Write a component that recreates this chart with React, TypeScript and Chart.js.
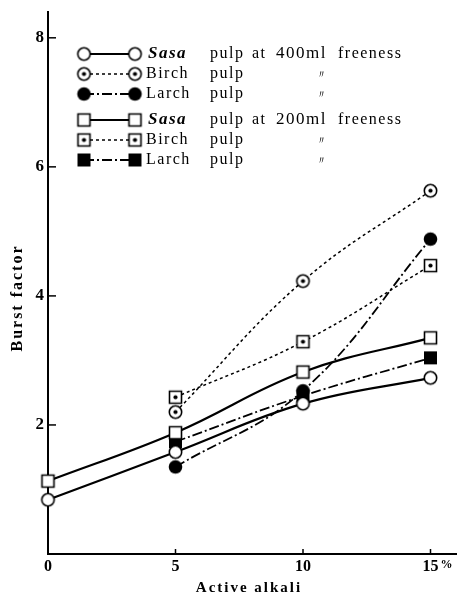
import React, { useEffect, useRef } from 'react';
import { Chart, registerables } from 'chart.js';

Chart.register(...registerables);

// ---- data ----
const alkali = [0, 5, 10, 15];
const sasa400 = [0.84, 1.58, 2.33, 2.73];
const birch400 = [null, 2.2, 4.23, 5.63];
const larch400 = [null, 1.35, 2.53, 4.88];
const sasa200 = [1.13, 1.88, 2.82, 3.35];
const birch200 = [null, 2.43, 3.29, 4.47];
const larch200 = [null, 1.74, 2.45, 3.04];
const xTickValues = [0, 5, 10, 15];
const yTickValues = [2, 4, 6, 8];
const xTitle = 'Active alkali';
const yTitle = 'Burst factor';
const legendNames = ['Sasa', 'Birch', 'Larch', 'Sasa', 'Birch', 'Larch'];
const legendItalic = [true, false, false, true, false, false];
const legendTails = [
  ['at', '400ml', 'freeness'],
  ['〃'],
  ['〃'],
  ['at', '200ml', 'freeness'],
  ['〃'],
  ['〃'],
];

const SERIF = '"Liberation Serif", "DejaVu Serif", serif';

type MarkerKind = 'circle' | 'circleDot' | 'disc' | 'square' | 'squareDot' | 'block';

function makeMarker(kind: MarkerKind): HTMLCanvasElement {
  const s = 17;
  const c = document.createElement('canvas');
  c.width = s;
  c.height = s;
  const g = c.getContext('2d')!;
  const m = s / 2;
  g.lineWidth = 1.6;
  g.strokeStyle = '#000';
  g.fillStyle = '#fff';
  if (kind === 'circle' || kind === 'circleDot') {
    g.beginPath();
    g.arc(m, m, 6.2, 0, Math.PI * 2);
    g.fill();
    g.stroke();
    if (kind === 'circleDot') {
      g.fillStyle = '#000';
      g.beginPath();
      g.arc(m, m, 2.1, 0, Math.PI * 2);
      g.fill();
    }
  } else if (kind === 'disc') {
    g.fillStyle = '#000';
    g.beginPath();
    g.arc(m, m, 6.8, 0, Math.PI * 2);
    g.fill();
  } else if (kind === 'square' || kind === 'squareDot') {
    g.beginPath();
    g.rect(m - 6, m - 6, 12, 12);
    g.fill();
    g.stroke();
    if (kind === 'squareDot') {
      g.fillStyle = '#000';
      g.beginPath();
      g.arc(m, m, 2.1, 0, Math.PI * 2);
      g.fill();
    }
  } else {
    g.fillStyle = '#000';
    g.fillRect(m - 6.5, m - 6.5, 13, 13);
  }
  return c;
}

export default function App() {
  const ref = useRef<HTMLCanvasElement | null>(null);

  useEffect(() => {
    if (!ref.current) return;
    const markers = {
      circle: makeMarker('circle'),
      circleDot: makeMarker('circleDot'),
      disc: makeMarker('disc'),
      square: makeMarker('square'),
      squareDot: makeMarker('squareDot'),
      block: makeMarker('block'),
    };
    const seriesDefs = [
      { values: sasa400, marker: markers.circle, dash: [] as number[], width: 2.2 },
      { values: birch400, marker: markers.circleDot, dash: [3, 3], width: 1.5 },
      { values: larch400, marker: markers.disc, dash: [10, 3, 2, 3], width: 1.8 },
      { values: sasa200, marker: markers.square, dash: [] as number[], width: 2.2 },
      { values: birch200, marker: markers.squareDot, dash: [3, 3], width: 1.5 },
      { values: larch200, marker: markers.block, dash: [10, 3, 2, 3], width: 1.8 },
    ];

    const datasets = seriesDefs.map((d, i) => ({
      label: 'series' + i,
      data: alkali
        .map((x, j) => ({ x, y: d.values[j] }))
        .filter((p) => p.y !== null),
      borderColor: '#000',
      borderWidth: d.width,
      borderDash: d.dash,
      tension: 0.4,
      fill: false,
      pointStyle: d.marker,
      pointRadius: 6,
      clip: false as any,
    }));

    const overlay = {
      id: 'overlay',
      afterDraw(chart: any) {
        const ctx: CanvasRenderingContext2D = chart.ctx;
        const xs = chart.scales.x;
        const ys = chart.scales.y;
        const area = chart.chartArea;
        ctx.save();
        ctx.strokeStyle = '#000';
        ctx.fillStyle = '#000';
        ctx.lineWidth = 1.5;
        ctx.setLineDash([]);
        // inward ticks
        yTickValues.forEach((v) => {
          const y = ys.getPixelForValue(v);
          ctx.beginPath();
          ctx.moveTo(area.left, y);
          ctx.lineTo(area.left + 8, y);
          ctx.stroke();
        });
        xTickValues
          .filter((v) => v > 0)
          .forEach((v) => {
            const x = xs.getPixelForValue(v);
            ctx.beginPath();
            ctx.moveTo(x, area.bottom);
            ctx.lineTo(x, area.bottom - 5);
            ctx.stroke();
          });
        // percent sign after 15
        ctx.font = `bold 12px ${SERIF}`;
        ctx.textAlign = 'left';
        ctx.textBaseline = 'middle';
        ctx.fillText('%', xs.getPixelForValue(15) + 10, area.bottom + 11);

        // axis titles
        (ctx as any).letterSpacing = '2px';
        ctx.font = `bold 15px ${SERIF}`;
        ctx.textAlign = 'center';
        ctx.textBaseline = 'middle';
        ctx.fillText(xTitle, 249, 588);
        ctx.save();
        ctx.translate(18, 298);
        ctx.rotate(-Math.PI / 2);
        ctx.font = `bold 16px ${SERIF}`;
        ctx.fillText(yTitle, 0, 0);
        ctx.restore();

        // legend
        const rowY = [54, 74, 94, 120, 140, 160];
        const x0 = 84;
        const x1 = 135;
        const tailX = [252, 276, 338];
        (ctx as any).letterSpacing = '1.5px';
        seriesDefs.forEach((d, i) => {
          const y = rowY[i];
          ctx.save();
          ctx.lineWidth = d.width;
          ctx.setLineDash(d.dash);
          ctx.beginPath();
          ctx.moveTo(x0, y);
          ctx.lineTo(x1, y);
          ctx.stroke();
          ctx.restore();
          ctx.drawImage(d.marker, x0 - d.marker.width / 2, y - d.marker.height / 2);
          ctx.drawImage(d.marker, x1 - d.marker.width / 2, y - d.marker.height / 2);
          ctx.textAlign = 'left';
          ctx.textBaseline = 'middle';
          ctx.font = legendItalic[i] ? `italic bold 17px ${SERIF}` : `16px ${SERIF}`;
          ctx.fillText(legendNames[i], legendItalic[i] ? 148 : 146, y);
          ctx.font = `16px ${SERIF}`;
          ctx.fillText('pulp', 210, y);
          const tail = legendTails[i];
          if (tail.length === 1) {
            ctx.font = `11px ${SERIF}`;
            ctx.fillText(tail[0], 316, y + 1);
          } else {
            tail.forEach((w, k) => {
              ctx.font = k === 1 ? `17px ${SERIF}` : `16px ${SERIF}`;
              ctx.fillText(w, tailX[k], y);
            });
          }
        });
        ctx.restore();
      },
    };

    const chart = new Chart(ref.current, {
      type: 'line',
      data: { datasets },
      options: {
        animation: false,
        responsive: true,
        maintainAspectRatio: false,
        layout: { autoPadding: false, padding: { left: 0, top: 12, right: 2, bottom: 0 } },
        plugins: {
          legend: { display: false },
          tooltip: { enabled: false },
        },
        scales: {
          x: {
            type: 'linear',
            min: 0,
            max: 16,
            grid: { display: false, drawTicks: false },
            border: { display: true, color: '#000', width: 2 },
            afterBuildTicks: (scale: any) => {
              scale.ticks = xTickValues.map((v) => ({ value: v }));
            },
            afterFit: (scale: any) => {
              scale.height = 48;
              scale.paddingLeft = 0;
              scale.paddingRight = 0;
            },
            ticks: {
              color: '#000',
              padding: 3,
              maxRotation: 0,
              font: { family: SERIF, size: 16, weight: 'bold' },
              callback: (v: any) => String(v),
            },
          },
          y: {
            type: 'linear',
            min: 0,
            max: 8.4,
            grid: { display: false, drawTicks: false },
            border: { display: true, color: '#000', width: 2 },
            afterBuildTicks: (scale: any) => {
              scale.ticks = yTickValues.map((v) => ({ value: v }));
            },
            afterFit: (scale: any) => {
              scale.width = 48;
              scale.paddingTop = 0;
              scale.paddingBottom = 0;
            },
            ticks: {
              color: '#000',
              padding: 4,
              font: { family: SERIF, size: 17, weight: 'bold' },
              callback: (v: any) => String(v),
            },
          },
        },
      },
      plugins: [overlay],
    });
    return () => chart.destroy();
  }, []);

  return (
    <div style={{ position: 'fixed', left: 0, top: 0, width: 458, height: 602, background: '#fff' }}>
      <canvas ref={ref} />
    </div>
  );
}
